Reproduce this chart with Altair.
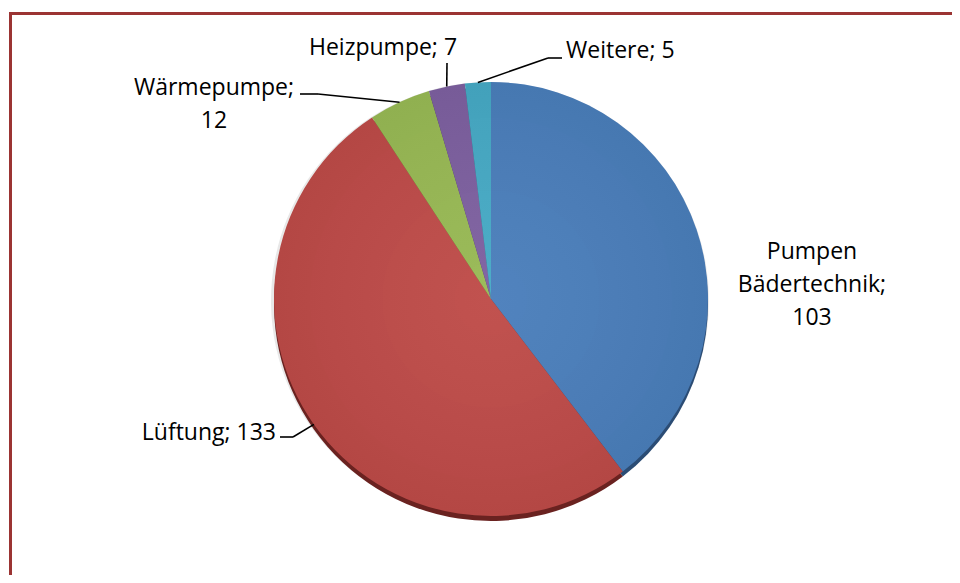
import math
import altair as alt
import pandas as pd

# ---- data ----
categories = ["Pumpen Bädertechnik", "Lüftung", "Wärmepumpe", "Heizpumpe", "Weitere"]
values = [103, 133, 12, 7, 5]
label_lines = [["Pumpen", "Bädertechnik;", "103"], ["Lüftung; 133"], ["Wärmepumpe;", "12"],
               ["Heizpumpe; 7"], ["Weitere; 5"]]
colors = ["#4A7EBB", "#BE4B48", "#98B954", "#7D60A0", "#46AAC5"]
shadow_colors = ["#2B4C74", "#6A2220", "#5B7030", "#4A3A60", "#2A6A7A"]

# ---- layout (chart pixel coordinates) ----
W, H = 944, 567
CX, CY, R = 483, 291, 217
label_pos = [(804, 244, "center"), (268, 425, "right"), (206, 80, "center"),
             (375, 40, "center"), (558, 43, "left")]
# leader start points (label side), None = no leader
leader_start = [None, [(272, 429), (285, 429)], [(292, 86), (310, 86)],
                [(439, 55)], [(554, 50), (540, 50)]]

total = sum(values)
rows, lab_rows, seg_rows = [], [], []
cum = 0
for i, (c, v) in enumerate(zip(categories, values)):
    mid = (cum + v / 2) / total * 2 * math.pi
    cum += v
    rows.append({"cat": c, "val": v, "idx": i})
    lx, ly, al = label_pos[i]
    lab_rows.append({"cat": c, "text": "\n".join(label_lines[i]), "x": lx, "y": ly, "align": al})
    if leader_start[i]:
        ax = CX + R * math.sin(mid)
        ay = CY - R * math.cos(mid)
        pts = leader_start[i] + [(ax, ay)]
        for (x1, y1), (x2, y2) in zip(pts[:-1], pts[1:]):
            seg_rows.append({"x": x1, "y": y1, "x2": x2, "y2": y2})

df = pd.DataFrame(rows)
lab = pd.DataFrame(lab_rows)
seg = pd.DataFrame(seg_rows)

theta = alt.Theta("val:Q", stack=True)
order = alt.Order("idx:Q")

shadow = alt.Chart(df).mark_arc(radius=R, stroke=None).encode(
    theta=theta, order=order,
    fill=alt.Fill("cat:N", scale=alt.Scale(domain=categories, range=shadow_colors), legend=None),
    x=alt.value(CX), y=alt.value(CY + 5),
)
soft = alt.Chart(df).mark_arc(radius=R + 2, stroke=None, color="#d8d8d8", opacity=0.6).encode(
    theta=theta, order=order, x=alt.value(CX - 1), y=alt.value(CY + 2),
)
pie = alt.Chart(df).mark_arc(radius=R, stroke=None).encode(
    theta=theta, order=order,
    color=alt.Color("cat:N", scale=alt.Scale(domain=categories, range=colors), legend=None),
    x=alt.value(CX), y=alt.value(CY),
)
shine = alt.Chart(df).mark_arc(
    radius=R, stroke=None,
    fill=alt.RadialGradient(gradient="radial", x1=0.5, y1=0.5, r1=0, x2=0.5, y2=0.5, r2=0.5,
                            stops=[alt.GradientStop(offset=0, color="rgba(255,255,255,0.04)"),
                                   alt.GradientStop(offset=1, color="rgba(0,0,0,0.05)")]),
).encode(theta=alt.Theta("val:Q", aggregate="sum"), x=alt.value(CX), y=alt.value(CY))

leaders = alt.Chart(seg).mark_rule(color="#000000", strokeWidth=1.6).encode(
    x=alt.X("x:Q", scale=None), y=alt.Y("y:Q", scale=None),
    x2="x2:Q", y2="y2:Q",
)

def text_layer(al):
    return alt.Chart(lab).transform_filter(alt.datum.align == al).mark_text(
        font="Open Sans", fontSize=23, color="#000000", align=al, baseline="middle",
        lineBreak="\n", lineHeight=33,
    ).encode(x=alt.X("x:Q", scale=None), y=alt.Y("y:Q", scale=None), text="text:N")

frame = pd.DataFrame({"k": [0]})
top_border = alt.Chart(frame).mark_rule(color="#9B3433", strokeWidth=3).encode(
    x=alt.value(1), x2=alt.value(W), y=alt.value(5.5))
left_border = alt.Chart(frame).mark_rule(color="#9B3433", strokeWidth=3).encode(
    x=alt.value(2.5), y=alt.value(4), y2=alt.value(H))

chart = alt.layer(
    soft, shadow, pie, shine, leaders,
    text_layer("center"), text_layer("right"), text_layer("left"),
    top_border, left_border,
).resolve_scale(color="independent", fill="independent").properties(
    width=W, height=H, padding=0, autosize=alt.AutoSizeParams(type="none"),
    background="white").configure_view(stroke=None)

chart.save("out.html", embed_options={"renderer": "svg", "actions": False})
